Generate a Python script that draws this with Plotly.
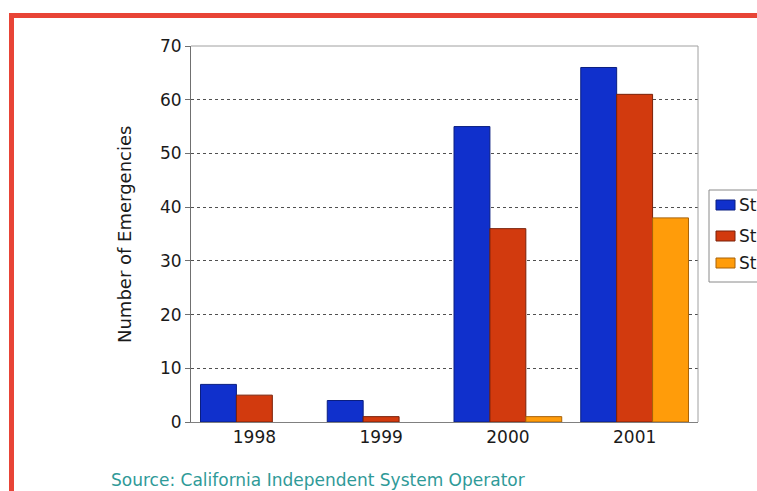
import plotly.graph_objects as go

# Data
years = ["1998", "1999", "2000", "2001"]
series_names = ["Stage 1", "Stage 2", "Stage 3"]
stage1 = [7, 4, 55, 66]
stage2 = [5, 1, 36, 61]
stage3 = [0, 0, 1, 38]
y_ticks = [0, 10, 20, 30, 40, 50, 60, 70]

colors = ["#1030cc", "#d23a0e", "#ff9c0a"]
edges = ["#0a1e80", "#7a2008", "#a86208"]

# Figure geometry (pixels)
FIG_W, FIG_H = 757, 491
M_L, M_R, M_T, M_B = 191, 59, 46, 69
PW = FIG_W - M_L - M_R
PH = FIG_H - M_T - M_B


def px_x(px):
    return (px - M_L) / PW


def px_y(py):
    return (FIG_H - M_B - py) / PH


fig = go.Figure()
for name, vals, c, e in zip(series_names, [stage1, stage2, stage3], colors, edges):
    # zero-height bars get no outline so they do not show up as a line on the axis
    widths = [1 if v > 0 else 0 for v in vals]
    fig.add_trace(go.Bar(
        x=years, y=vals, name=name,
        marker=dict(color=c, line=dict(color=e, width=widths)),
        showlegend=False,
    ))

FONT = "DejaVu Sans"
TEXT = "#1a1a1a"

fig.update_layout(
    width=FIG_W, height=FIG_H,
    margin=dict(l=M_L, r=M_R, t=M_T, b=M_B, autoexpand=False),
    paper_bgcolor="white", plot_bgcolor="white",
    barmode="group", bargap=0.15, bargroupgap=0,
    font=dict(family=FONT, size=17, color=TEXT),
    xaxis=dict(
        showline=True, linecolor="#808080", linewidth=1,
        showgrid=False, ticks="", tickfont=dict(size=17, color=TEXT),
    ),
    yaxis=dict(
        range=[0, 70], tickvals=y_ticks,
        showline=True, linecolor="#707070", linewidth=1,
        ticks="outside", ticklen=5, tickcolor="#707070",
        showgrid=True, gridcolor="#505050", griddash="dot", gridwidth=1,
        zeroline=False, tickfont=dict(size=17, color=TEXT),
    ),
)

shapes = []
# plot-area frame (top and right edges)
shapes.append(dict(type="line", xref="paper", yref="paper", x0=0, x1=1, y0=1, y1=1,
                   line=dict(color="#a0a0a0", width=1)))
shapes.append(dict(type="line", xref="paper", yref="paper", x0=1, x1=1, y0=0, y1=1,
                   line=dict(color="#a0a0a0", width=1)))

# red outer border
shapes.append(dict(type="line", xref="paper", yref="paper",
                   x0=px_x(11.5), x1=px_x(800), y0=px_y(15.5), y1=px_y(15.5),
                   line=dict(color="#e84436", width=5)))
shapes.append(dict(type="line", xref="paper", yref="paper",
                   x0=px_x(11.5), x1=px_x(11.5), y0=px_y(13), y1=px_y(520),
                   line=dict(color="#e84436", width=5)))

# legend box
shapes.append(dict(type="rect", xref="paper", yref="paper",
                   x0=px_x(709), x1=px_x(800), y0=px_y(282), y1=px_y(190),
                   line=dict(color="#8a8a8a", width=1), fillcolor="white"))

annotations = []
legend_rows = [205, 236, 263]
for name, c, e, cy in zip(series_names, colors, edges, legend_rows):
    shapes.append(dict(type="rect", xref="paper", yref="paper",
                       x0=px_x(716), x1=px_x(735), y0=px_y(cy + 5), y1=px_y(cy - 5),
                       line=dict(color=e, width=1), fillcolor=c))
    annotations.append(dict(xref="paper", yref="paper", x=px_x(737), y=px_y(cy),
                            text=name, showarrow=False, xanchor="left", yanchor="middle",
                            font=dict(family=FONT, size=17, color=TEXT)))

# y-axis title
annotations.append(dict(xref="paper", yref="paper", x=px_x(124), y=px_y(235),
                        text="Number of Emergencies", textangle=-90, showarrow=False,
                        xanchor="center", yanchor="middle",
                        font=dict(family=FONT, size=18, color=TEXT)))

# source line
annotations.append(dict(xref="paper", yref="paper", x=px_x(109), y=px_y(480),
                        text="Source: California Independent System Operator",
                        showarrow=False, xanchor="left", yanchor="middle",
                        font=dict(family=FONT, size=17, color="#2f9a98")))

fig.update_layout(shapes=shapes, annotations=annotations)

fig.write_html("out.html")
